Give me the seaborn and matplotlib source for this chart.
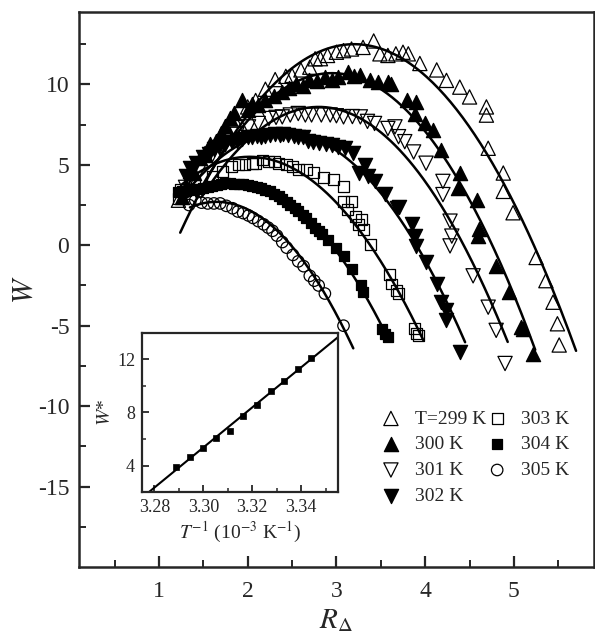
import numpy as np
import pandas as pd
import matplotlib
matplotlib.use("Agg")
import matplotlib.pyplot as plt
from matplotlib.ticker import FixedLocator, FormatStrFormatter
import seaborn as sns

# ---------------------------------------------------------
# main panel data: W vs R_Delta for each temperature
# ---------------------------------------------------------
R_299 = [1.22, 1.35, 1.52, 1.70, 1.85, 2.00, 2.09, 2.20, 2.31, 2.43, 2.50, 2.60, 2.70, 2.76,
         2.82, 2.90, 3.00, 3.08, 3.17, 3.30, 3.42, 3.49, 3.58, 3.67, 3.75, 3.81, 3.94, 4.13,
         4.24, 4.39, 4.50, 4.69, 4.69, 4.71, 4.88, 4.88, 4.99, 5.25, 5.36, 5.44, 5.49, 5.51]
W_299 = [2.8, 3.6, 5.7, 6.8, 7.8, 8.6, 9.0, 9.7, 10.3, 10.5, 10.56, 10.9, 11.07, 11.59,
         11.6, 11.8, 12.0, 12.1, 12.2, 12.3, 12.7, 11.9, 11.8, 11.9, 12.0, 11.9, 11.3, 10.9,
         10.25, 9.83, 9.22, 8.6, 8.09, 6.03, 4.49, 3.35, 2.02, -0.76, -2.2, -3.54, -4.88, -6.2]

R_300 = [1.26, 1.30, 1.35, 1.40, 1.46, 1.52, 1.58, 1.64, 1.70, 1.75, 1.80, 1.85, 1.94, 2.00,
         2.05, 2.12, 2.20, 2.30, 2.39, 2.47, 2.54, 2.62, 2.69, 2.78, 2.87, 2.95, 3.02, 3.13,
         3.20, 3.27, 3.38, 3.47, 3.58, 3.62, 3.79, 3.88, 3.90, 4.00, 4.09, 4.18, 4.37, 4.39,
         4.58, 4.60, 4.61, 4.80, 4.95, 5.08, 5.10, 5.21]
W_300 = [3.0, 3.6, 4.6, 4.5, 5.4, 5.6, 6.3, 6.5, 7.0, 7.4, 7.9, 8.2, 9.0, 8.4,
         8.8, 8.7, 9.0, 9.3, 9.5, 9.8, 10.04, 9.9, 10.25, 10.2, 10.45, 10.3, 10.45, 10.76,
         10.5, 10.56, 10.3, 10.14, 10.14, 10.04, 9.0, 8.19, 8.9, 7.57, 7.16, 5.93, 3.56, 4.49,
         2.84, 0.57, 0.99, -1.28, -2.92, -5.08, -5.19, -6.73]

R_301 = [1.30, 1.45, 1.60, 1.75, 1.88, 2.01, 2.12, 2.24, 2.32, 2.39, 2.48, 2.57, 2.65, 2.72,
         2.83, 2.93, 3.00, 3.08, 3.18, 3.27, 3.35, 3.43, 3.58, 3.66, 3.70, 3.77, 3.87, 4.01,
         4.20, 4.20, 4.28, 4.30, 4.28, 4.54, 4.71, 4.80, 4.90]
W_301 = [3.6, 4.6, 5.6, 6.4, 6.9, 7.36, 7.57, 7.88, 7.95, 7.98, 8.1, 8.19, 8.1, 8.1,
         8.1, 8.1, 8.05, 7.98, 8.0, 7.98, 7.7, 7.57, 7.26, 7.36, 6.75, 6.44, 5.8, 5.1,
         3.97, 3.15, 1.5, 0.57, -0.04, -1.9, -3.85, -5.29, -7.35]

R_302 = [1.30, 1.35, 1.42, 1.50, 1.56, 1.62, 1.68, 1.75, 1.82, 1.88, 1.94, 2.00, 2.05, 2.10,
         2.15, 2.20, 2.25, 2.31, 2.36, 2.40, 2.46, 2.52, 2.57, 2.62, 2.68, 2.74, 2.80, 2.88,
         2.95, 3.02, 3.10, 3.19, 3.25, 3.32, 3.36, 3.43, 3.55, 3.68, 3.70, 3.85, 3.88, 3.90,
         4.01, 4.13, 4.18, 4.24, 4.24, 4.39]
W_302 = [4.3, 4.8, 5.1, 5.5, 5.7, 6.0, 6.1, 6.3, 6.4, 6.5, 6.6, 6.7, 6.7, 6.8,
         6.75, 6.8, 6.85, 6.9, 6.85, 6.9, 6.85, 6.8, 6.75, 6.7, 6.5, 6.45, 6.34, 6.3,
         6.23, 6.1, 6.03, 5.72, 4.5, 5.0, 4.28, 3.97, 3.2, 2.32, 2.4, 1.3, 0.57, -0.04,
         -1.07, -2.41, -3.54, -4.05, -4.67, -6.62]

R_303 = [1.22, 1.24, 1.40, 1.60, 1.72, 1.82, 1.90, 1.97, 2.05, 2.09, 2.17, 2.24, 2.30, 2.35,
         2.44, 2.50, 2.57, 2.66, 2.74, 2.85, 2.97, 3.08, 3.08, 3.13, 3.17, 3.21, 3.25, 3.28,
         3.30, 3.38, 3.60, 3.62, 3.68, 3.70, 3.88, 3.90, 3.92]
W_303 = [2.9, 3.45, 3.9, 4.3, 4.6, 4.9, 5.0, 5.0, 5.1, 5.1, 5.3, 5.2, 5.2, 5.1,
         5.0, 4.9, 4.7, 4.7, 4.5, 4.2, 4.07, 3.66, 2.73, 2.22, 2.73, 1.81, 1.3, 1.6,
         0.99, 0.06, -1.79, -2.41, -2.82, -3.0, -5.19, -5.49, -5.6]

R_304 = [1.22, 1.26, 1.30, 1.35, 1.40, 1.45, 1.50, 1.55, 1.60, 1.65, 1.70, 1.75, 1.80, 1.85,
         1.90, 1.95, 2.00, 2.05, 2.10, 2.15, 2.20, 2.25, 2.30, 2.35, 2.39, 2.44, 2.48, 2.53,
         2.57, 2.62, 2.66, 2.71, 2.76, 2.80, 2.84, 2.91, 3.00, 3.08, 3.18, 3.28, 3.30, 3.51,
         3.55, 3.58]
W_304 = [3.3, 3.4, 3.4, 3.45, 3.5, 3.5, 3.55, 3.6, 3.7, 3.75, 3.8, 3.85, 3.85, 3.8,
         3.8, 3.8, 3.75, 3.7, 3.6, 3.55, 3.45, 3.35, 3.2, 3.05, 2.85, 2.7, 2.5, 2.3,
         2.1, 1.9, 1.7, 1.4, 1.1, 0.9, 0.7, 0.35, -0.15, -0.65, -1.5, -2.5, -2.9, -5.2,
         -5.5, -5.7]

R_305 = [1.34, 1.41, 1.48, 1.55, 1.62, 1.69, 1.76, 1.83, 1.89, 1.95, 2.01, 2.06, 2.12, 2.18,
         2.23, 2.28, 2.33, 2.39, 2.44, 2.51, 2.57, 2.63, 2.70, 2.75, 2.80, 2.87, 3.08]
W_305 = [2.5, 2.8, 2.65, 2.6, 2.6, 2.6, 2.45, 2.3, 2.1, 2.0, 1.85, 1.7, 1.5, 1.3,
         1.1, 0.9, 0.6, 0.2, -0.15, -0.6, -1.0, -1.3, -1.9, -2.2, -2.5, -3.0, -5.0]

# fitted curves W = Wp - b (R - Rp)^2
CURVE_T = [299, 300, 301, 302, 303, 304, 305]
CURVE_RP = [3.20, 2.95, 2.80, 2.40, 2.02, 1.85, 1.65]
CURVE_WP = [12.5, 10.7, 8.6, 7.0, 5.5, 3.9, 2.7]
CURVE_B = [3.05, 3.28, 3.22, 3.10, 2.97, 3.23, 3.84]
CURVE_R0 = [1.24, 1.42, 1.48, 1.26, 1.25, 1.25, 1.35]
CURVE_R1 = [5.70, 5.24, 4.93, 4.45, 3.98, 3.60, 3.19]

LABELS = ["T=299 K", "300 K", "301 K", "302 K", "303 K", "304 K", "305 K"]

# inset: W* vs 1/T
INSET_X = [3.289, 3.2946, 3.3000, 3.3053, 3.3109, 3.3164, 3.3219, 3.3276, 3.3331, 3.3385, 3.344]
INSET_W = [3.92, 4.63, 5.34, 6.09, 6.64, 7.77, 8.60, 9.61, 10.36, 11.27, 12.13]

# ---------------------------------------------------------
sns.set_style("ticks")
plt.rcParams.update({
    'font.family': ['Liberation Serif', 'DejaVu Serif'],
    'mathtext.fontset': 'stix',
    'axes.unicode_minus': False,
    'axes.linewidth': 1.8,
})

data = [(R_299, W_299), (R_300, W_300), (R_301, W_301), (R_302, W_302),
        (R_303, W_303), (R_304, W_304), (R_305, W_305)]
styles = [('^', 'none', 105), ('^', 'black', 105), ('v', 'none', 105), ('v', 'black', 105),
          ('s', 'none', 62), ('s', 'black', 62), ('o', 'none', 68)]

fig = plt.figure(figsize=(5.95, 6.39), dpi=100)
ax = fig.add_axes([0.1328, 0.1127, 0.8652, 0.8685])

for (r, w), (mk, fc, s), lab in zip(data, styles, LABELS):
    df = pd.DataFrame({'R': r, 'W': w})
    sns.scatterplot(data=df, x='R', y='W', marker=mk, s=s, color='black',
                    facecolor=fc, edgecolor='black', linewidth=0.9,
                    label=lab, legend=False, ax=ax, zorder=3)

for rp, wp, b, r0, r1 in zip(CURVE_RP, CURVE_WP, CURVE_B, CURVE_R0, CURVE_R1):
    rg = np.linspace(r0, r1, 200)
    sns.lineplot(x=rg, y=wp - b * (rg - rp) ** 2, color='black', linewidth=1.8,
                 sort=False, estimator=None, ax=ax, zorder=4)

ax.set_xlim(0.1, 5.9)
ax.set_ylim(-20, 14.5)
ax.xaxis.set_major_locator(FixedLocator([1, 2, 3, 4, 5]))
ax.xaxis.set_minor_locator(FixedLocator([0.5, 1.5, 2.5, 3.5, 4.5, 5.5]))
ax.yaxis.set_major_locator(FixedLocator([-15, -10, -5, 0, 5, 10]))
ax.yaxis.set_minor_locator(FixedLocator([-17.5, -12.5, -7.5, -2.5, 2.5, 7.5, 12.5]))
ax.tick_params(axis='x', which='major', pad=10)
ax.tick_params(axis='y', which='major', pad=7)
ax.tick_params(which='major', direction='in', length=8, width=1.6, labelsize=17)
ax.tick_params(which='minor', direction='in', length=5, width=1.4)
ax.tick_params(top=False, right=False, which='both')
ax.set_xlabel(r'$R_{\Delta}$', fontsize=21, labelpad=4)
ax.set_ylabel(r'$W$', fontsize=21, labelpad=0)

ax.legend(loc='upper left', bbox_to_anchor=(0.587, 0.283), ncol=2, frameon=False,
          fontsize=14, handletextpad=0.75, columnspacing=0.05, labelspacing=0.42,
          borderaxespad=0, borderpad=0, handlelength=1.0, scatterpoints=1)

# ---------------------------------------------------------
# inset
# ---------------------------------------------------------
axin = fig.add_axes([0.2387, 0.230, 0.3294, 0.249])
axin.set_facecolor('white')
sns.scatterplot(x=INSET_X, y=INSET_W, marker='s', s=22, color='black',
                edgecolor='black', linewidth=0.5, legend=False, ax=axin, zorder=3)
coef = np.polyfit(INSET_X, INSET_W, 1)
xg = np.linspace(3.27, 3.36, 50)
sns.lineplot(x=xg, y=np.polyval(coef, xg), color='black', linewidth=1.5,
             sort=False, estimator=None, ax=axin)
axin.set_xlim(3.275, 3.355)
axin.set_ylim(2, 14)
axin.xaxis.set_major_locator(FixedLocator([3.28, 3.30, 3.32, 3.34]))
axin.xaxis.set_minor_locator(FixedLocator([3.29, 3.31, 3.33, 3.35]))
axin.xaxis.set_major_formatter(FormatStrFormatter('%.2f'))
axin.yaxis.set_major_locator(FixedLocator([4, 8, 12]))
axin.yaxis.set_minor_locator(FixedLocator([6, 10]))
axin.tick_params(which='major', direction='in', length=5, width=1.3, labelsize=13, pad=5)
axin.tick_params(which='minor', direction='in', length=3, width=1.1)
axin.tick_params(top=False, right=False, which='both')
for sp in axin.spines.values():
    sp.set_linewidth(1.6)
axin.set_xlabel(r'$T^{-1}$ (10$^{-3}$ K$^{-1}$)', fontsize=14, labelpad=3)
axin.set_ylabel(r'$W$*', fontsize=14, labelpad=2)

fig.savefig('out.png', dpi=100)
